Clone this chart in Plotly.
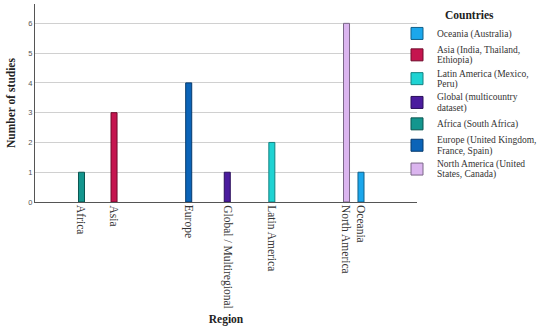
import plotly.graph_objects as go

# ---- data ----
regions = ["Africa", "Asia", "Europe", "Global / Multiregional",
           "Latin America", "North America", "Oceania"]
series_lines = [
    ["Oceania (Australia)"],
    ["Asia (India, Thailand,", "Ethiopia)"],
    ["Latin America (Mexico,", "Peru)"],
    ["Global (multicountry", "dataset)"],
    ["Africa (South Africa)"],
    ["Europe (United Kingdom,", "France, Spain)"],
    ["North America (United", "States, Canada)"],
]
series_region = ["Oceania", "Asia", "Latin America", "Global / Multiregional",
                 "Africa", "Europe", "North America"]
series_values = [1, 3, 2, 1, 1, 4, 6]
y_ticks = [0, 1, 2, 3, 4, 5, 6]

# ---- styles ----
fills = ["#1ba7ec", "#c5154f", "#1fd3d3", "#4b1c9e", "#14968e", "#0b64b8", "#dbb5ef"]
lines = ["#10608a", "#6e0c2c", "#138080", "#2a0f5a", "#0b5550", "#073a6c", "#7a6787"]

W, H = 550, 326
ml, mr, mt, mb = 35, 133, 4, 124
x_range = [-0.8, 6.75]
bargap = 0.167
legend_glyph_px = 9.5

fig = go.Figure()
for k, (parts, reg, val, fc, lc) in enumerate(zip(series_lines, series_region, series_values, fills, lines)):
    name = "<br>".join(f'<span style="font-size:{legend_glyph_px}px">{p}</span>' for p in parts)
    fig.add_trace(go.Bar(
        x=[reg], y=[val], name=name,
        offsetgroup=str(k), alignmentgroup="a",
        marker=dict(color=fc, line=dict(color=lc, width=1)),
    ))

# category labels placed under each bar (slot offsets computed from group layout)
plot_w = W - ml - mr
cat_px = plot_w / (x_range[1] - x_range[0])
n = len(series_lines)
slot_px = cat_px * (1 - bargap) / n
for k, reg in enumerate(series_region):
    fig.add_annotation(
        x=reg, xref="x", y=0, yref="paper",
        text=reg, textangle=90, showarrow=False,
        xanchor="center", yanchor="top",
        xshift=(k - (n - 1) / 2) * slot_px, yshift=-1,
        font=dict(family="Liberation Serif, serif", size=11.5, color="#333333"),
    )

fig.update_layout(
    width=W, height=H,
    margin=dict(l=ml, r=mr, t=mt, b=mb),
    paper_bgcolor="white", plot_bgcolor="white",
    barmode="group", bargap=bargap, bargroupgap=0,
    legend=dict(
        x=(397 - ml) / plot_w, xanchor="left", y=1.0, yanchor="top",
        title=dict(text="<b>Countries</b>", side="top center",
                   font=dict(family="Liberation Serif, serif", size=11.5, color="#222222")),
        font=dict(family="Liberation Serif, serif", size=8, color="#333333"),
        bgcolor="rgba(0,0,0,0)", traceorder="normal",
        itemwidth=30,
    ),
    xaxis=dict(
        type="category", categoryorder="array", categoryarray=regions,
        range=x_range, showticklabels=False, ticks="",
        showline=True, linecolor="#555555", linewidth=1.3,
        showgrid=False, zeroline=False,
        title=dict(text="<b>Region</b>", standoff=114,
                   font=dict(family="Liberation Serif, serif", size=11.5, color="#222222")),
        automargin=False,
    ),
    yaxis=dict(
        range=[0, 6.65], tickvals=y_ticks,
        showline=True, linecolor="#555555", linewidth=1.3,
        showgrid=True, gridcolor="#d0d0d0", gridwidth=1,
        zeroline=False, ticks="",
        tickfont=dict(family="Liberation Sans, Arial, sans-serif", size=7.5, color="#555555"),
        title=dict(text="<b>Number of studies</b>", standoff=10,
                   font=dict(family="Liberation Serif, serif", size=11.5, color="#222222")),
        automargin=False,
    ),
    showlegend=True,
)

fig.write_html("out.html", config={"displayModeBar": False},
               post_script="document.body.style.margin='0';")
